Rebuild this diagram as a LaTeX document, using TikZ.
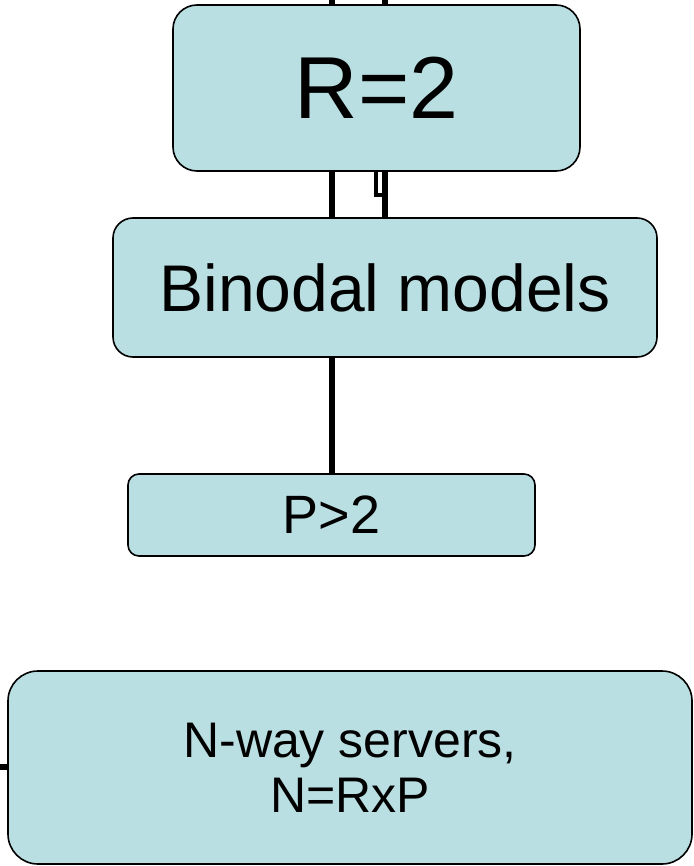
\documentclass[tikz,border=0pt]{standalone}
\usepackage{fontspec}
\setmainfont{Liberation Sans}
\definecolor{boxfill}{RGB}{186,223,226}
\tikzset{
	box/.style={draw, fill=boxfill, line width=1.6pt, inner sep=0pt, align=center},
	link/.style={line width=6pt}
}
\begin{document}
\begin{tikzpicture}[x=1pt, y=-1pt]
	\useasboundingbox (0,0) rectangle (693,866);

	\node[box, rounded corners=24pt, minimum width=407pt, minimum height=166pt,
	      font=\fontsize{88}{96}\selectfont] (r2) at (376.5,88) {R=2};
	\node[box, rounded corners=20pt, minimum width=544pt, minimum height=139pt,
	      font=\fontsize{66}{74}\selectfont] (bin) at (385,287.5) {Binodal models};
	\node[box, rounded corners=11pt, minimum width=407pt, minimum height=82pt,
	      font=\fontsize{54}{60}\selectfont] (p2) at (331.5,515) {P>2};
	\node[box, rounded corners=30pt, minimum width=684pt, minimum height=193pt,
	      font=\fontsize{50}{55}\selectfont] (nway) at (350,767.5) {N-way servers,\\N=RxP};

	\coordinate (inA) at (332,0);
	\coordinate (inB) at (385,0);
	\coordinate (inC) at (0,767);
	\coordinate (kink) at (376,195);

	\draw[link] (inA) -- (inA |- r2.north);
	\draw[link] (inB) -- (inB |- r2.north);
	\draw[link] (r2.south -| inA) -- (bin.north -| inA);
	\draw[link] (r2.south -| inB) -- (bin.north -| inB);
	\draw[line width=3.5pt] (r2.south -| kink) -- (kink) -- (kink -| inB);
	\draw[link] (bin.south -| inA) -- (p2.north -| inA);
	\draw[link] (inC) -- (inC -| nway.west);
\end{tikzpicture}
\end{document}
